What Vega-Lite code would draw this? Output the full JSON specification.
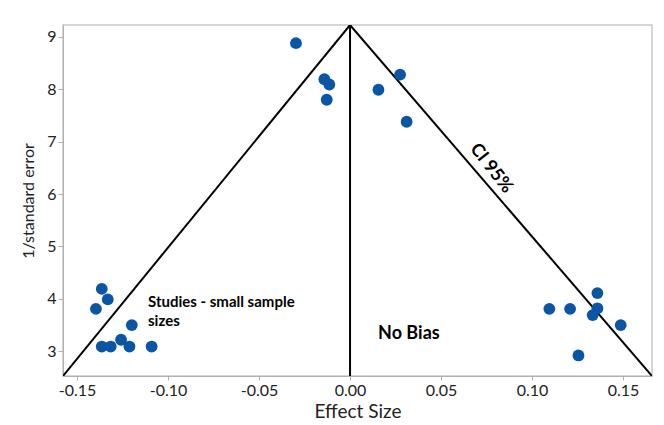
{
  "$schema": "https://vega.github.io/schema/vega-lite/v6.json",
  "width": 589,
  "height": 351,
  "autosize": {"type": "none"},
  "padding": {"left": 63, "top": 25, "right": 12, "bottom": 49},
  "background": "white",
  "config": {
    "font": "Lato",
    "view": {"stroke": "#c8c8c8", "strokeWidth": 1.5},
    "axis": {
      "grid": false,
      "domainColor": "#b0b0b0",
      "tickColor": "#b0b0b0",
      "labelColor": "#222222",
      "titleColor": "#222222",
      "labelFontSize": 16,
      "titleFontWeight": "normal"
    }
  },
  "datasets": {
    "points": [
      {"effect": -0.0297, "inv_se": 8.88},
      {"effect": -0.0141, "inv_se": 8.19},
      {"effect": -0.0114, "inv_se": 8.09},
      {"effect": -0.0128, "inv_se": 7.80},
      {"effect": 0.0156, "inv_se": 7.99},
      {"effect": 0.0275, "inv_se": 8.28},
      {"effect": 0.0311, "inv_se": 7.38},
      {"effect": -0.1364, "inv_se": 4.19},
      {"effect": -0.1331, "inv_se": 3.99},
      {"effect": -0.1396, "inv_se": 3.81},
      {"effect": -0.1199, "inv_se": 3.50},
      {"effect": -0.1364, "inv_se": 3.09},
      {"effect": -0.1315, "inv_se": 3.09},
      {"effect": -0.1258, "inv_se": 3.22},
      {"effect": -0.1212, "inv_se": 3.09},
      {"effect": -0.1090, "inv_se": 3.09},
      {"effect": 0.1095, "inv_se": 3.81},
      {"effect": 0.1209, "inv_se": 3.81},
      {"effect": 0.1359, "inv_se": 4.11},
      {"effect": 0.1359, "inv_se": 3.82},
      {"effect": 0.1333, "inv_se": 3.69},
      {"effect": 0.1487, "inv_se": 3.50},
      {"effect": 0.1255, "inv_se": 2.92}
    ],
    "funnel": [
      {"side": "left", "x": -0.1577, "y": 2.528},
      {"side": "left", "x": 0, "y": 9.226},
      {"side": "right", "x": 0, "y": 9.226},
      {"side": "right", "x": 0.1659, "y": 2.528},
      {"side": "center", "x": 0, "y": 9.226},
      {"side": "center", "x": 0, "y": 2.528}
    ],
    "labels": [
      {"label": "CI 95%", "x": 0.0775, "y": 6.49, "kind": "ci"},
      {"label": "Studies - small sample", "x": -0.111, "y": 3.94, "kind": "studies"},
      {"label": "sizes", "x": -0.111, "y": 3.57, "kind": "studies"},
      {"label": "No Bias", "x": 0.0154, "y": 3.32, "kind": "nobias"}
    ]
  },
  "layer": [
    {
      "data": {"name": "funnel"},
      "mark": {"type": "line", "color": "black", "strokeWidth": 2, "clip": true},
      "encoding": {
        "x": {"field": "x", "type": "quantitative"},
        "y": {"field": "y", "type": "quantitative"},
        "detail": {"field": "side"}
      }
    },
    {
      "data": {"name": "points"},
      "mark": {"type": "circle", "size": 140, "color": "#0a56a4", "opacity": 1},
      "encoding": {
        "x": {
          "field": "effect",
          "type": "quantitative",
          "title": "Effect Size",
          "scale": {"domain": [-0.1577, 0.1659], "nice": false, "zero": false},
          "axis": {
            "values": [-0.15, -0.1, -0.05, 0, 0.05, 0.1, 0.15],
            "labelExpr": "datum.value < 0 ? '-' + format(-datum.value, '.2f') : format(datum.value, '.2f')",
            "titleFontSize": 19,
            "titlePadding": 4,
            "labelPadding": 2,
            "tickSize": 4
          }
        },
        "y": {
          "field": "inv_se",
          "type": "quantitative",
          "title": "1/standard error",
          "scale": {"domain": [2.528, 9.226], "nice": false, "zero": false},
          "axis": {
            "values": [3, 4, 5, 6, 7, 8, 9],
            "titleFontSize": 16,
            "titlePadding": 10,
            "tickSize": 5
          }
        }
      }
    },
    {
      "data": {"name": "labels"},
      "transform": [{"filter": "datum.kind == 'ci'"}],
      "mark": {"type": "text", "fontWeight": "bold", "fontSize": 18, "angle": 52, "align": "center", "baseline": "middle", "color": "black"},
      "encoding": {
        "x": {"field": "x", "type": "quantitative"},
        "y": {"field": "y", "type": "quantitative"},
        "text": {"field": "label"}
      }
    },
    {
      "data": {"name": "labels"},
      "transform": [{"filter": "datum.kind == 'studies'"}],
      "mark": {"type": "text", "fontWeight": "bold", "fontSize": 15, "align": "left", "baseline": "middle", "color": "black"},
      "encoding": {
        "x": {"field": "x", "type": "quantitative"},
        "y": {"field": "y", "type": "quantitative"},
        "text": {"field": "label"}
      }
    },
    {
      "data": {"name": "labels"},
      "transform": [{"filter": "datum.kind == 'nobias'"}],
      "mark": {"type": "text", "fontWeight": "bold", "fontSize": 18, "align": "left", "baseline": "middle", "color": "black"},
      "encoding": {
        "x": {"field": "x", "type": "quantitative"},
        "y": {"field": "y", "type": "quantitative"},
        "text": {"field": "label"}
      }
    }
  ]
}
